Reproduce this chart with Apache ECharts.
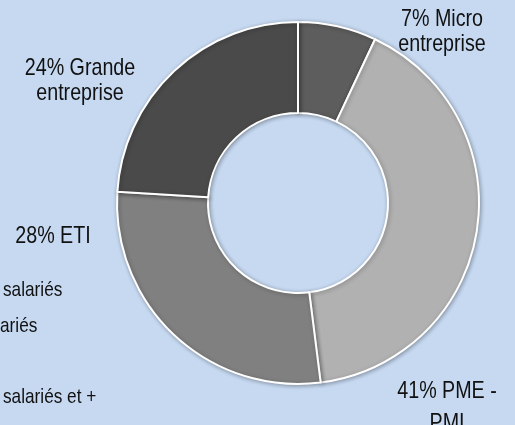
<!DOCTYPE html>
<html>
<head>
<meta charset="utf-8">
<script src="https://cdn.jsdelivr.net/npm/echarts@6/dist/echarts.min.js"></script>
<style>
  html, body { margin: 0; padding: 0; background: #c6d9f1; }
  #chart { width: 515px; height: 425px; }
</style>
</head>
<body>
<div id="chart"></div>
<script>
// categories and shares (%), clockwise from the top
var categories = ['Micro\nentreprise', 'PME -\nPMI', 'ETI', 'Grande\nentreprise'];
var shares = [7, 41, 28, 24];
var sliceColors = ['#5d5d5d', '#b1b1b1', '#808080', '#4a4a4a'];
// partly hidden legend notes on the left edge
var legendNotes = ['salariés', 'salariés', 'salariés et +'];

// label layout: centre of each text block, line height
var labelPos = [[442, 32], [447, 407], [53, 236], [80, 81]];
var labelLineHeight = [25, 32, 25, 25];
var notePos = [[3, 301], [-22, 337], [3, 408]];

// the original uses a narrow face; squeeze Liberation Sans to match
var FONT = '"Liberation Sans", Arial, sans-serif';
var NARROW = 0.82;

var dom = document.getElementById('chart');
var myChart = echarts.init(dom);

var pieData = categories.map(function (name, i) {
    return { name: name, value: shares[i], itemStyle: { color: sliceColors[i] } };
});

var labelTexts = categories.map(function (name, i) {
    return {
        type: 'text',
        x: labelPos[i][0],
        y: labelPos[i][1],
        scaleX: NARROW,
        style: {
            text: shares[i] + '% ' + name,
            font: '24px ' + FONT,
            lineHeight: labelLineHeight[i],
            fill: '#111',
            align: 'center',
            verticalAlign: 'middle'
        }
    };
});

var noteTexts = legendNotes.map(function (t, i) {
    return {
        type: 'text',
        x: notePos[i][0],
        y: notePos[i][1],
        scaleX: NARROW,
        style: {
            text: t,
            font: '21px ' + FONT,
            fill: '#111',
            verticalAlign: 'bottom'
        }
    };
});

myChart.setOption({
    backgroundColor: '#c6d9f1',
    animation: false,
    graphic: labelTexts.concat(noteTexts),
    series: [{
        type: 'pie',
        center: [298, 203],
        radius: [90, 181],
        startAngle: 90,
        clockwise: true,
        itemStyle: {
            borderColor: '#ffffff',
            borderWidth: 2,
            shadowBlur: 4,
            shadowOffsetX: 1,
            shadowOffsetY: 1,
            shadowColor: 'rgba(0,0,0,0.3)'
        },
        label: { show: false },
        labelLine: { show: false },
        emphasis: { disabled: true },
        data: pieData
    }]
});

window.addEventListener('resize', function () { myChart.resize(); });
</script>
</body>
</html>
